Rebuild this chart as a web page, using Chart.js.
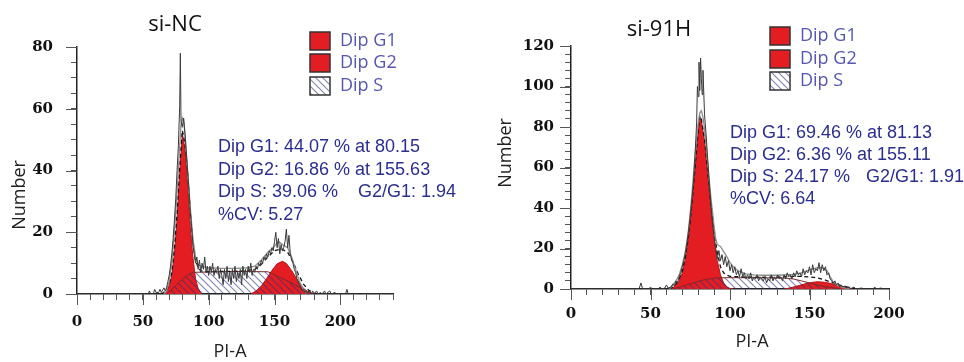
<!DOCTYPE html>
<html>
<head>
<meta charset="utf-8">
<script src="https://cdn.jsdelivr.net/npm/chart.js@4.4.0/dist/chart.umd.min.js"></script>
<style>
  html, body { margin: 0; padding: 0; background: #fff; overflow: hidden; }
  #wrap { position: relative; width: 964px; height: 362px; }
  .panel { position: absolute; top: 0; width: 482px; height: 362px; }
</style>
</head>
<body>
<div id="wrap">
  <div class="panel" style="left:0"><canvas id="nc-chart"></canvas></div>
  <div class="panel" style="left:482px"><canvas id="h91-chart"></canvas></div>
</div>
<script>
const legendNames = ['Dip G1', 'Dip G2', 'Dip S'];

// ---- si-NC panel ----
const ncRawX = [0, 54, 55, 56, 58, 59, 60, 62, 63, 64, 66, 67, 68, 69, 70, 71, 72, 73, 74, 75, 76, 77, 78, 78.5, 79, 80, 81, 82, 83, 84, 85, 86, 87, 88, 89, 90, 91, 92, 93, 94, 95, 96, 97, 98, 99, 100, 101, 102, 103, 104, 105, 106, 107, 108, 109, 110, 111, 112, 113, 114, 115, 116, 117, 118, 119, 120, 121, 122, 123, 124, 125, 126, 127, 128, 129, 130, 131, 132, 133, 134, 135, 136, 137, 138, 139, 140, 141, 142, 143, 144, 145, 146, 147, 148, 149, 150, 151, 152, 153, 154, 155, 156, 157, 158, 159, 160, 161, 162, 163, 164, 165, 166, 167, 168, 169, 170, 171, 172, 173, 174, 175, 176, 177, 178, 179, 180, 182, 183, 185, 186, 188, 189, 192, 193, 196, 197, 204, 205, 206, 240];
const ncRawY = [0, 0, 1, 0, 0, 1.5, 0.5, 0.5, 1.5, 0.5, 2, 1, 2, 4, 6, 9, 13, 18, 24, 31, 40, 48, 61, 78, 56, 54, 57, 52, 46, 40, 34, 27, 22, 16, 13, 10, 12, 8, 11, 7, 10, 8, 12, 7, 9, 6, 9, 7, 10, 6, 8, 7, 9, 5, 8, 6, 3, 8, 5, 9, 4, 7, 3, 8, 5, 9, 4, 7, 5, 8, 3, 9, 6, 8, 5, 9, 7, 10, 6, 8, 7, 9, 8, 10, 9, 11, 10, 12, 11, 13, 12, 14, 13, 15, 14, 17, 20, 15, 18, 13, 16, 14, 15, 17, 21, 15, 19, 13, 11, 10, 8, 7, 5, 4, 3, 2, 1, 1.5, 0.5, 1, 0, 1, 0.5, 0, 1, 0, 1, 0, 0.5, 0, 1, 0, 1, 0, 0.5, 0, 0, 1.5, 0, 0];
const ncEnvX = [66, 68, 70, 72, 74, 76, 78, 79, 80, 81, 82, 84, 86, 88, 90, 92, 95, 100, 110, 120, 130, 135, 140, 145, 150, 153, 156, 160, 163, 166, 169, 172, 175];
const ncEnvY = [0, 1, 4, 10, 20, 33, 48, 55, 57, 56, 52, 40, 28, 18, 12, 9.5, 8.8, 8.5, 8.3, 8.3, 8.5, 9, 11, 13.5, 15.5, 17, 16, 15, 12, 8, 4, 1.5, 0];
const ncFitX = [64, 67, 70, 72, 74, 76, 78, 80, 82, 84, 86, 88, 90, 92, 94, 98, 110, 125, 135, 140, 145, 150, 155, 160, 164, 168, 172, 176, 180, 183];
const ncFitY = [0, 0.8, 3, 7, 15, 26, 41, 53, 49, 39, 27, 17, 11, 8.5, 7.5, 7.2, 7.3, 7.4, 8, 9.6, 12, 14, 14.6, 13.5, 10.5, 6.5, 3.2, 1.2, 0.3, 0];
const ncG1X = [66, 68, 70, 72, 74, 76, 78, 80, 82, 84, 86, 88, 90, 92, 94, 95];
const ncG1Y = [0, 0.8, 2.5, 6, 13, 24, 39, 52, 47, 35, 22, 12, 5, 1.8, 0.4, 0];
const ncG2X = [132, 136, 140, 144, 148, 152, 156, 159, 163, 167, 171, 175, 178];
const ncG2Y = [0, 1, 2.6, 5, 7.6, 9.8, 10.6, 9.9, 7.6, 4.8, 2.3, 0.7, 0];
const ncSX = [68, 72, 76, 80, 84, 88, 95, 110, 125, 145, 150, 155, 160, 165, 170, 175, 180];
const ncSY = [0, 1.5, 3.2, 4.8, 6.2, 7, 7.1, 7.2, 7.3, 7.2, 6.2, 5.2, 4.2, 3.1, 2, 0.9, 0];
const ncStats = ['Dip G1: 44.07 % at 80.15', 'Dip G2: 16.86 % at 155.63', 'Dip S: 39.06 %', '%CV: 5.27'];
const ncRatio = 'G2/G1: 1.94';

// ---- si-91H panel ----
const hRawX = [0, 42, 43, 44, 45, 49, 50, 51, 55, 56, 57, 59, 60, 61, 63, 64, 65, 66, 67, 68, 69, 70, 71, 72, 73, 74, 75, 76, 77, 78, 79, 79.5, 80, 80.5, 81, 81.5, 82, 82.5, 83, 84, 85, 86, 87, 88, 89, 90, 91, 92, 93, 94, 95, 96, 97, 98, 99, 100, 101, 102, 103, 104, 105, 106, 107, 108, 109, 110, 111, 112, 113, 114, 115, 116, 117, 118, 119, 120, 121, 122, 123, 124, 125, 126, 127, 128, 129, 130, 131, 132, 133, 134, 135, 136, 137, 138, 139, 140, 141, 142, 143, 144, 145, 146, 147, 148, 149, 150, 151, 152, 153, 154, 155, 156, 157, 158, 159, 160, 161, 162, 163, 164, 165, 166, 167, 168, 169, 170, 171, 172, 173, 175, 176, 178, 179, 183, 184, 190, 191, 192, 195, 196, 200];
const hRawY = [0, 0, 0.5, 3, 0, 0, 1, 0, 0, 1, 0, 0.5, 2, 0.5, 1, 2.5, 1.5, 4, 3, 6, 8, 11, 14, 18, 23, 29, 36, 44, 53, 66, 82, 100, 95, 112, 98, 114, 104, 96, 108, 86, 76, 64, 52, 42, 33, 26, 20, 15, 19, 14, 17, 12, 16, 11, 14, 9, 12, 8, 11, 7, 9, 6, 10, 6, 8, 5, 7, 5, 8, 4, 6, 5, 7, 4, 6, 5, 4, 6, 3, 5, 4, 7, 4, 6, 5, 7, 5, 6, 4, 7, 5, 8, 6, 7, 5, 8, 6, 9, 7, 8, 6, 10, 7, 9, 8, 11, 7, 12, 8, 10, 9, 13, 8, 12, 9, 11, 7, 8, 5, 4, 3, 4, 2, 3, 1, 2, 1, 1.5, 0.5, 1, 0, 1, 0, 0.5, 0, 0, 1, 0, 0.5, 0, 0];
const hEnvX = [62, 64, 66, 68, 70, 72, 74, 76, 78, 80, 81, 82, 83, 84, 86, 88, 90, 91, 92, 93, 94, 96, 98, 100, 102, 105, 110, 115, 120, 130, 140, 145, 150, 155, 158, 161, 163, 165, 168, 172, 175];
const hEnvY = [0, 2, 4, 7, 12, 19, 30, 46, 66, 82, 87, 88, 85, 79, 62, 45, 31, 25, 22, 21.5, 21, 18.5, 16, 13, 11, 9, 7.5, 7, 6.8, 6.8, 7.2, 8, 9.5, 10.5, 10.5, 9, 6, 3.5, 1.5, 0.5, 0];
const hFitX = [62, 64, 66, 68, 70, 72, 74, 76, 78, 80, 81, 82, 84, 86, 88, 90, 92, 94, 96, 98, 100, 110, 120, 130, 135, 140, 145, 150, 155, 160, 165, 170, 175, 180];
const hFitY = [0, 1, 2.5, 5, 9, 16, 27, 42, 60, 78, 85.5, 84, 74, 58, 42, 28, 18, 11, 8, 6.8, 6.2, 5.9, 5.8, 5.9, 6.1, 6.2, 6.2, 6, 5.4, 4.4, 3, 1.7, 0.7, 0];
const hG1X = [62, 64, 66, 68, 70, 72, 74, 76, 78, 80, 81, 82, 84, 86, 88, 90, 92, 94, 96, 98, 100, 102];
const hG1Y = [0, 0.6, 1.8, 4, 8, 15, 26, 41, 59, 78, 85, 83, 73, 57, 40, 25, 14, 7, 3, 1, 0.3, 0];
const hG2X = [134, 138, 142, 146, 150, 155, 160, 164, 168, 172, 176, 179];
const hG2Y = [0, 0.6, 1.4, 2.3, 3.1, 3.6, 3.3, 2.6, 1.7, 0.9, 0.3, 0];
const hSX = [64, 68, 72, 76, 80, 84, 88, 92, 100, 120, 135, 140, 145, 150, 155, 160, 165, 170];
const hSY = [0, 0.8, 1.8, 2.8, 3.8, 4.6, 5.2, 5.5, 5.6, 5.5, 5.4, 4.9, 4, 3, 2, 1.2, 0.6, 0];
const hStats = ['Dip G1: 69.46 % at 81.13', 'Dip G2: 6.36 % at 155.11', 'Dip S: 24.17 %', '%CV: 6.64'];
const hRatio = 'G2/G1: 1.91';

const red = '#e41d23';

function hatchPattern(color) {
  const c = document.createElement('canvas');
  c.width = 7;
  c.height = 7;
  const g = c.getContext('2d');
  g.strokeStyle = color;
  g.lineWidth = 1.1;
  g.beginPath();
  g.moveTo(-1, -1); g.lineTo(8, 8);
  g.moveTo(-1, 6); g.lineTo(1, 8);
  g.moveTo(6, -1); g.lineTo(8, 1);
  g.stroke();
  return g.createPattern(c, 'repeat');
}
const hatch = hatchPattern('rgba(45, 50, 120, 0.6)');

function pts(xs, ys) {
  return xs.map((x, i) => ({x, y: ys[i]}));
}

// longer marks for the labelled ticks
const majorTicks = {
  id: 'majorTicks',
  afterDraw(chart, args, o) {
    const {ctx, chartArea, scales: {x, y}} = chart;
    ctx.save();
    ctx.strokeStyle = '#555';
    ctx.lineWidth = 1;
    ctx.beginPath();
    x.ticks.forEach(t => {
      if (t.value % o.xEvery === 0) {
        const px = Math.round(x.getPixelForValue(t.value)) + 0.5;
        ctx.moveTo(px, chartArea.bottom);
        ctx.lineTo(px, chartArea.bottom + 11);
      }
    });
    y.ticks.forEach(t => {
      if (t.value % o.yEvery === 0) {
        const py = Math.round(y.getPixelForValue(t.value)) + 0.5;
        ctx.moveTo(chartArea.left, py);
        ctx.lineTo(chartArea.left - 11, py);
      }
    });
    ctx.stroke();
    ctx.restore();
  },
};

const panelText = {
  id: 'panelText',
  afterDraw(chart, args, o) {
    const ctx = chart.ctx;
    ctx.save();
    ctx.textAlign = 'center';
    ctx.textBaseline = 'middle';
    ctx.fillStyle = '#111';
    ctx.font = '22px "Open Sans"';
    ctx.fillText(o.title, o.titlePos[0], o.titlePos[1]);
    ctx.fillStyle = '#222';
    ctx.font = '18px "Open Sans"';
    ctx.fillText('PI-A', o.xTitlePos[0], o.xTitlePos[1]);
    ctx.save();
    ctx.translate(o.yTitlePos[0], o.yTitlePos[1]);
    ctx.rotate(-Math.PI / 2);
    ctx.fillText('Number', 0, 0);
    ctx.restore();

    // legend
    ctx.textAlign = 'left';
    ctx.font = '18px "Open Sans"';
    o.legendY.forEach((ly, i) => {
      const ds = chart.data.datasets.find(d => d.label === legendNames[i]);
      const bx = o.legendX, by = ly - 9;
      ctx.fillStyle = '#fff';
      ctx.fillRect(bx, by, 20, 18);
      ctx.fillStyle = ds.backgroundColor;
      ctx.fillRect(bx, by, 20, 18);
      ctx.strokeStyle = '#333';
      ctx.lineWidth = 1.5;
      ctx.strokeRect(bx, by, 20, 18);
      ctx.fillStyle = '#5656b0';
      ctx.fillText(legendNames[i], bx + 30, ly);
    });

    // fit statistics
    ctx.fillStyle = '#2b2e8f';
    ctx.font = '18px "Liberation Sans"';
    o.stats.forEach((s, i) => {
      ctx.fillText(s, o.statsPos[0], o.statsPos[1] + i * o.statsGap);
    });
    ctx.fillText(o.ratio, o.ratioX, o.statsPos[1] + 2 * o.statsGap);
    ctx.restore();
  },
};

function makeChart(canvasId, cfg) {
  const tickFont = {family: 'DejaVu Serif', size: 15, weight: 'bold'};
  return new Chart(document.getElementById(canvasId), {
    type: 'line',
    data: {
      datasets: [
        {label: 'raw', data: pts(cfg.rawX, cfg.rawY), borderColor: '#3a3a3a', borderWidth: 1, order: 1},
        {label: 'envelope', data: pts(cfg.envX, cfg.envY), borderColor: '#8e8e8e', borderWidth: 1.3, order: 2},
        {label: 'fit', data: pts(cfg.fitX, cfg.fitY), borderColor: '#111', borderWidth: 1.3, borderDash: [4, 3], order: 3},
        {label: 'Dip S', data: pts(cfg.sX, cfg.sY), fill: 'origin', backgroundColor: hatch, borderColor: '#7a2a2a', borderWidth: 1, order: 4},
        {label: 'Dip G1', data: pts(cfg.g1X, cfg.g1Y), fill: 'origin', backgroundColor: red, borderColor: '#b5161b', borderWidth: 1, order: 5},
        {label: 'Dip G2', data: pts(cfg.g2X, cfg.g2Y), fill: 'origin', backgroundColor: red, borderColor: '#b5161b', borderWidth: 1, order: 5},
      ],
    },
    options: {
      responsive: true,
      maintainAspectRatio: false,
      animation: false,
      layout: {padding: {top: cfg.top, right: cfg.right, left: 0, bottom: 0}},
      elements: {point: {radius: 0}, line: {tension: 0, fill: false}},
      scales: {
        x: {
          type: 'linear',
          min: 0,
          max: cfg.xMax,
          ticks: {
            stepSize: 10, autoSkip: false, maxRotation: 0, padding: cfg.xPad, color: '#111', font: tickFont,
            callback: v => (v % 50 === 0 ? v : ''),
          },
          grid: {drawOnChartArea: false, tickLength: 6, tickColor: '#555'},
          border: {color: '#222', width: 1.5},
          afterFit: s => { s.height = cfg.bottomGap; },
        },
        y: {
          min: 0,
          max: cfg.yMax,
          ticks: {
            stepSize: cfg.yStep, autoSkip: false, padding: cfg.yPad, color: '#111', font: tickFont,
            callback: v => (v % 20 === 0 ? v : ''),
          },
          grid: {drawOnChartArea: false, tickLength: 6, tickColor: '#555'},
          border: {color: '#222', width: 1.5},
          afterFit: s => { s.width = cfg.left; },
        },
      },
      plugins: {
        legend: {display: false},
        tooltip: {enabled: false},
        majorTicks: {xEvery: 50, yEvery: 20},
        panelText: cfg.text,
      },
    },
    plugins: [majorTicks, panelText],
  });
}

makeChart('nc-chart', {
  rawX: ncRawX, rawY: ncRawY, envX: ncEnvX, envY: ncEnvY, fitX: ncFitX, fitY: ncFitY,
  g1X: ncG1X, g1Y: ncG1Y, g2X: ncG2X, g2Y: ncG2Y, sX: ncSX, sY: ncSY,
  xMax: 240, yMax: 80, yStep: 5,
  top: 47, right: 89, left: 77, bottomGap: 68, xPad: 13, yPad: 18,
  text: {
    title: 'si-NC', titlePos: [175, 25], xTitlePos: [230, 352], yTitlePos: [20, 195],
    legendX: 310, legendY: [41, 63, 86],
    stats: ncStats, ratio: ncRatio, statsPos: [218, 147], statsGap: 22.7, ratioX: 358,
  },
});

makeChart('h91-chart', {
  rawX: hRawX, rawY: hRawY, envX: hEnvX, envY: hEnvY, fitX: hFitX, fitY: hFitY,
  g1X: hG1X, g1Y: hG1Y, g2X: hG2X, g2Y: hG2Y, sX: hSX, sY: hSY,
  xMax: 200, yMax: 120, yStep: 4,
  top: 46, right: 75, left: 89, bottomGap: 73, xPad: 10, yPad: 11,
  text: {
    title: 'si-91H', titlePos: [177, 30], xTitlePos: [270, 342], yTitlePos: [24, 153],
    legendX: 288, legendY: [36, 59, 81],
    stats: hStats, ratio: hRatio, statsPos: [248, 133], statsGap: 22, ratioX: 384,
  },
});
</script>
</body>
</html>
